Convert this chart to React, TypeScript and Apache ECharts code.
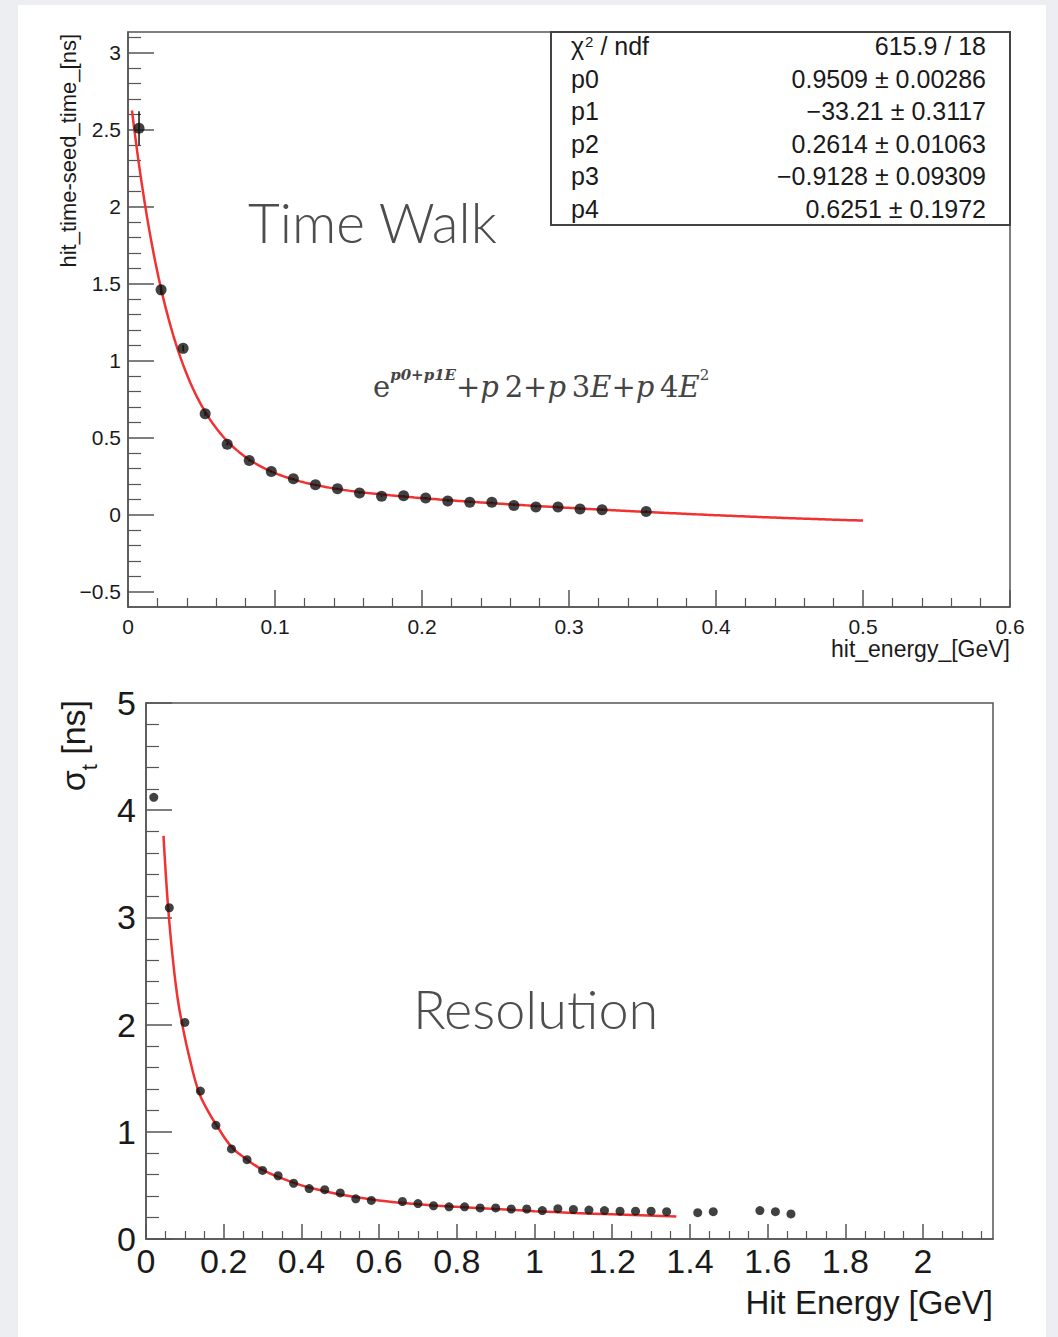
import React, { useEffect, useRef } from 'react';
import * as echarts from 'echarts';

// ---- Time walk profile: bin centres [GeV] and mean hit-seed time [ns]
const twEnergy = [
  0.0075, 0.0225, 0.0375, 0.0525, 0.0675, 0.0825, 0.0975, 0.1125, 0.1275, 0.1425, 0.1575, 0.1725,
  0.1875, 0.2025, 0.2175, 0.2325, 0.2475, 0.2625, 0.2775, 0.2925, 0.3075, 0.3225, 0.3525,
];
const twTime = [
  2.51, 1.46, 1.08, 0.655, 0.457, 0.351, 0.28, 0.233, 0.194, 0.168, 0.14, 0.119,
  0.123, 0.108, 0.089, 0.08, 0.08, 0.06, 0.05, 0.05, 0.037, 0.032, 0.021,
];
const twError = [
  0.11, 0.03, 0.02, 0.012, 0.008, 0.006, 0.005, 0.005, 0.004, 0.004, 0.004, 0.004,
  0.004, 0.004, 0.004, 0.004, 0.004, 0.004, 0.004, 0.004, 0.004, 0.004, 0.006,
];

// ---- Fit: exp(p0 + p1 E) + p2 + p3 E + p4 E^2
const fitNames = ['p0', 'p1', 'p2', 'p3', 'p4'];
const fitValues = [0.9509, -33.21, 0.2614, -0.9128, 0.6251];
const fitErrors = ['0.00286', '0.3117', '0.01063', '0.09309', '0.1972'];
const fitChi2 = '615.9 / 18';
const fitRange = [0.0027, 0.5];

// ---- Timing resolution vs hit energy
const resEnergy = [
  0.02, 0.06, 0.1, 0.14, 0.18, 0.22, 0.26, 0.3, 0.34, 0.38, 0.42, 0.46, 0.5, 0.54, 0.58,
  0.66, 0.7, 0.74, 0.78, 0.82, 0.86, 0.9, 0.94, 0.98, 1.02, 1.06, 1.1, 1.14, 1.18, 1.22,
  1.26, 1.3, 1.34, 1.42, 1.46, 1.58, 1.62, 1.66,
];
const resSigma = [
  4.12, 3.09, 2.02, 1.38, 1.06, 0.84, 0.74, 0.64, 0.59, 0.52, 0.47, 0.46, 0.43, 0.375, 0.36,
  0.35, 0.33, 0.31, 0.3, 0.3, 0.29, 0.29, 0.28, 0.28, 0.265, 0.283, 0.275, 0.27, 0.265, 0.26,
  0.26, 0.26, 0.255, 0.246, 0.255, 0.265, 0.255, 0.234,
];
// resolution fit curve
const resFitEnergy = [
  0.045, 0.057, 0.07, 0.082, 0.095, 0.11, 0.135, 0.16, 0.18, 0.22, 0.26, 0.3, 0.35, 0.4,
  0.45, 0.5, 0.6, 0.7, 0.8, 0.9, 1.0, 1.1, 1.2, 1.365,
];
const resFitSigma = [
  3.76, 3.09, 2.58, 2.23, 1.97, 1.72, 1.38, 1.19, 1.07, 0.86, 0.74, 0.645, 0.565, 0.5,
  0.455, 0.415, 0.36, 0.325, 0.3, 0.28, 0.26, 0.243, 0.23, 0.21,
];

// ---- Axis tick positions
const twXMajor = [0, 0.1, 0.2, 0.3, 0.4, 0.5, 0.6];
const twXMinor = [
  0.02, 0.04, 0.06, 0.08, 0.12, 0.14, 0.16, 0.18, 0.22, 0.24, 0.26, 0.28, 0.32, 0.34, 0.36, 0.38,
  0.42, 0.44, 0.46, 0.48, 0.52, 0.54, 0.56, 0.58,
];
const twYMajor = [-0.5, 0, 0.5, 1, 1.5, 2, 2.5, 3];
const twYMinor = [
  -0.4, -0.3, -0.2, -0.1, 0.1, 0.2, 0.3, 0.4, 0.6, 0.7, 0.8, 0.9, 1.1, 1.2, 1.3, 1.4, 1.6, 1.7,
  1.8, 1.9, 2.1, 2.2, 2.3, 2.4, 2.6, 2.7, 2.8, 2.9, 3.1,
];
const resXMajor = [0, 0.2, 0.4, 0.6, 0.8, 1, 1.2, 1.4, 1.6, 1.8, 2];
const resXMinor = [
  0.05, 0.1, 0.15, 0.25, 0.3, 0.35, 0.45, 0.5, 0.55, 0.65, 0.7, 0.75, 0.85, 0.9, 0.95, 1.05, 1.1,
  1.15, 1.25, 1.3, 1.35, 1.45, 1.5, 1.55, 1.65, 1.7, 1.75, 1.85, 1.9, 1.95, 2.05, 2.1, 2.15,
];
const resYMajor = [0, 1, 2, 3, 4, 5];
const resYMinor = [
  0.2, 0.4, 0.6, 0.8, 1.2, 1.4, 1.6, 1.8, 2.2, 2.4, 2.6, 2.8, 3.2, 3.4, 3.6, 3.8, 4.2, 4.4, 4.6, 4.8,
];

const SANS = '"Liberation Sans", Arial, Helvetica, sans-serif';
const SERIF = '"DejaVu Serif", serif';
const AXIS = '#555';
const INK = '#1a1a1a';

const minus = (s: string) => s.replace('-', '\u2212');
const tickFmt = (v: number) => minus(String(parseFloat(Number(v).toFixed(3))));

function fitFn(e: number) {
  const [p0, p1, p2, p3, p4] = fitValues;
  return Math.exp(p0 + p1 * e) + p2 + p3 * e + p4 * e * e;
}

function buildFitCurve() {
  const pts: number[][] = [];
  const n = 300;
  for (let i = 0; i <= n; i++) {
    const e = fitRange[0] + ((fitRange[1] - fitRange[0]) * i) / n;
    pts.push([e, fitFn(e)]);
  }
  return pts;
}

function majorAxis(
  grid: number, position: string, min: number, max: number, values: number[],
  tickLen: number, fontSize: number, margin: number,
) {
  return {
    type: 'value',
    gridIndex: grid,
    position,
    min,
    max,
    axisLine: { show: true, onZero: false, lineStyle: { color: AXIS, width: 1.5 } },
    axisTick: { show: true, inside: true, length: tickLen, customValues: values, lineStyle: { color: AXIS, width: 1.5 } },
    axisLabel: {
      show: true,
      customValues: values,
      formatter: (v: number) => tickFmt(v),
      color: INK,
      fontFamily: SANS,
      fontSize,
      margin,
    },
    splitLine: { show: false },
  };
}

function minorAxis(grid: number, position: string, min: number, max: number, values: number[], tickLen: number) {
  return {
    type: 'value',
    gridIndex: grid,
    position,
    offset: 0,
    min,
    max,
    axisLine: { show: false, onZero: false },
    axisTick: { show: true, inside: true, length: tickLen, customValues: values, lineStyle: { color: AXIS, width: 1.2 } },
    axisLabel: { show: false },
    splitLine: { show: false },
  };
}

export default function App() {
  const ref = useRef<HTMLDivElement>(null);

  useEffect(() => {
    document.body.style.margin = '0';
    if (!ref.current) return;
    const chart = echarts.init(ref.current, undefined, { renderer: 'svg' });

    const statRows = [
      ['', fitChi2],
      ...fitNames.map((n, i) => [n, `${minus(String(fitValues[i]))} \u00b1 ${fitErrors[i]}`]),
    ];
    const rowTop = 46;
    const rowStep = 32.6;

    const statTexts: any[] = [];
    statRows.forEach((r, i) => {
      statTexts.push({
        type: 'text',
        x: 571,
        y: rowTop + i * rowStep,
        z: 101,
        style: {
          text: i === 0 ? '{n|\u03c7}{sup|2}{n| / ndf}' : `{n|${r[0]}}`,
          rich: {
            n: { fontFamily: SANS, fontSize: 25, fill: INK, color: INK },
            sup: { fontFamily: SANS, fontSize: 15, fill: INK, color: INK, verticalAlign: 'top', padding: [0, 0, 10, 1] },
          },
          verticalAlign: 'middle',
          align: 'left',
        },
      });
      statTexts.push({
        type: 'text',
        x: 986,
        y: rowTop + i * rowStep,
        z: 101,
        style: {
          text: r[1],
          fontFamily: SANS,
          fontSize: 25,
          fill: INK,
          align: 'right',
          verticalAlign: 'middle',
        },
      });
    });

    const option: any = {
      animation: false,
      backgroundColor: '#eceef2',
      grid: [
        { left: 128, top: 32, width: 882, height: 575, show: true, backgroundColor: '#fff', borderColor: AXIS, borderWidth: 1.5 },
        { left: 146, top: 703, width: 847, height: 536, show: true, backgroundColor: '#fff', borderColor: AXIS, borderWidth: 1.5 },
      ],
      xAxis: [
        majorAxis(0, 'bottom', 0, 0.6, twXMajor, 17, 21, 9),
        minorAxis(0, 'bottom', 0, 0.6, twXMinor, 9),
        majorAxis(1, 'bottom', 0, 2.18, resXMajor, 15, 34, 5),
        minorAxis(1, 'bottom', 0, 2.18, resXMinor, 8),
      ],
      yAxis: [
        majorAxis(0, 'left', -0.6, 3.135, twYMajor, 26, 21, 7),
        minorAxis(0, 'left', -0.6, 3.135, twYMinor, 13),
        majorAxis(1, 'left', 0, 5, resYMajor, 26, 34, 10),
        minorAxis(1, 'left', 0, 5, resYMinor, 13),
      ],
      graphic: [
        // white slide area
        { type: 'rect', z: -10, shape: { x: 18, y: 5, width: 1028, height: 1332 }, style: { fill: '#ffffff' } },
        // stats box
        {
          type: 'rect',
          z: 100,
          shape: { x: 551, y: 32, width: 459, height: 193 },
          style: { fill: '#ffffff', stroke: '#444', lineWidth: 2 },
        },
        ...statTexts,
        // axis titles
        {
          type: 'text',
          x: 68,
          y: 34,
          rotation: Math.PI / 2,
          z: 101,
          style: { text: 'hit_time-seed_time_[ns]', fontFamily: SANS, fontSize: 22, fill: INK, align: 'right', verticalAlign: 'middle' },
        },
        {
          type: 'text',
          x: 1010,
          y: 649,
          z: 101,
          style: { text: 'hit_energy_[GeV]', fontFamily: SANS, fontSize: 23, fill: INK, align: 'right', verticalAlign: 'middle' },
        },
        {
          type: 'text',
          x: 78,
          y: 700,
          rotation: Math.PI / 2,
          z: 101,
          style: {
            text: '{a|\u03c3}{b|t}{a| [ns]}',
            rich: {
              a: { fontFamily: SANS, fontSize: 34, fill: INK, color: INK, verticalAlign: 'top', lineHeight: 44 },
              b: { fontFamily: SANS, fontSize: 22, fill: INK, color: INK, verticalAlign: 'bottom', lineHeight: 44 },
            },
            align: 'right',
            verticalAlign: 'middle',
          },
        },
        {
          type: 'text',
          x: 993,
          y: 1302,
          z: 101,
          style: { text: 'Hit Energy [GeV]', fontFamily: SANS, fontSize: 33, fill: INK, align: 'right', verticalAlign: 'middle' },
        },
        // captions
        {
          type: 'text',
          x: 248,
          y: 222,
          z: 101,
          style: { text: 'Time Walk', fontFamily: 'Lato', fontWeight: 300, fontSize: 55, fill: '#4d4d4d', align: 'left', verticalAlign: 'middle' },
        },
        {
          type: 'text',
          x: 413,
          y: 1008,
          z: 101,
          style: { text: 'Resolution', fontFamily: 'Lato', fontWeight: 300, fontSize: 54, fill: '#4d4d4d', align: 'left', verticalAlign: 'middle' },
        },
        // fit function
        {
          type: 'text',
          x: 373,
          y: 384,
          z: 101,
          style: {
            text: '{r|e}{s|p0+p1E}{r|+}{i|p}{r|\u20092+}{i|p}{r|\u20093}{i|E}{r|+}{i|p}{r|\u20094}{i|E}{t|2}',
            rich: {
              r: { fontFamily: SERIF, fontSize: 29, fill: '#444', color: '#444', lineHeight: 34, verticalAlign: 'bottom' },
              i: { fontFamily: SERIF, fontStyle: 'italic', fontSize: 29, fill: '#444', color: '#444', lineHeight: 34, verticalAlign: 'bottom' },
              s: { fontFamily: SERIF, fontStyle: 'italic', fontWeight: 'bold', fontSize: 15, fill: '#444', color: '#444', verticalAlign: 'top', lineHeight: 18 },
              t: { fontFamily: SERIF, fontSize: 15, fill: '#444', color: '#444', verticalAlign: 'top', lineHeight: 18 },
            },
            align: 'left',
            verticalAlign: 'middle',
          },
        },
      ],
      series: [
        {
          type: 'line',
          xAxisIndex: 0,
          yAxisIndex: 0,
          data: buildFitCurve(),
          showSymbol: false,
          lineStyle: { color: '#f03232', width: 2.5 },
          z: 3,
        },
        {
          type: 'custom',
          xAxisIndex: 0,
          yAxisIndex: 0,
          data: twEnergy.map((e, i) => [e, twTime[i], twError[i]]),
          renderItem: (_p: any, api: any) => {
            const x = api.value(0);
            const y = api.value(1);
            const err = api.value(2);
            const a = api.coord([x, y - err]);
            const b = api.coord([x, y + err]);
            return {
              type: 'line',
              shape: { x1: a[0], y1: a[1], x2: b[0], y2: b[1] },
              style: { stroke: '#111', lineWidth: 1.5 },
            };
          },
          z: 4,
        },
        {
          type: 'scatter',
          xAxisIndex: 0,
          yAxisIndex: 0,
          data: twEnergy.map((e, i) => [e, twTime[i]]),
          symbol: 'circle',
          symbolSize: 11,
          itemStyle: { color: '#111' },
          z: 5,
        },
        {
          type: 'line',
          xAxisIndex: 2,
          yAxisIndex: 2,
          data: resFitEnergy.map((e, i) => [e, resFitSigma[i]]),
          smooth: 0.4,
          showSymbol: false,
          lineStyle: { color: '#f03232', width: 2.5 },
          z: 3,
        },
        {
          type: 'scatter',
          xAxisIndex: 2,
          yAxisIndex: 2,
          data: resEnergy.map((e, i) => [e, resSigma[i]]),
          symbol: 'circle',
          symbolSize: 9,
          itemStyle: { color: '#111' },
          z: 5,
        },
      ],
    };

    chart.setOption(option);
    return () => chart.dispose();
  }, []);

  return <div ref={ref} style={{ width: 1058, height: 1337 }} />;
}
